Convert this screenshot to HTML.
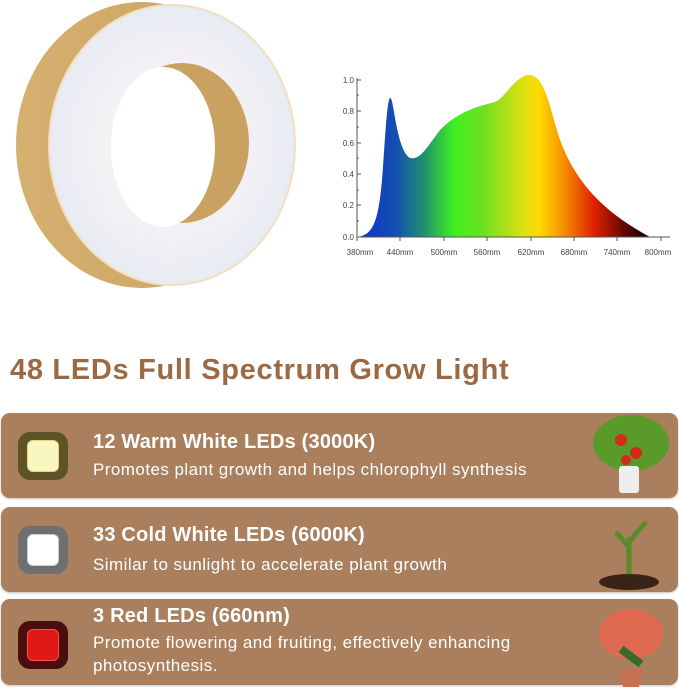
<!DOCTYPE html>
<html><head><meta charset="utf-8"><style>
body{margin:0;width:679px;height:690px;background:#fff;position:relative;overflow:hidden;font-family:"Liberation Sans",sans-serif}
.h{position:absolute;left:10px;top:354px;font-size:29px;font-weight:bold;color:#9a6a44;letter-spacing:0.7px}
.card{position:absolute;left:1px;width:677px;background:#a97f5d;border-radius:9px;box-shadow:0 1px 2px rgba(0,0,0,.25)}
.t{position:absolute;left:92px;color:#fff;font-weight:bold;font-size:20px;letter-spacing:0.2px}
.s{position:absolute;left:92px;color:#fff;font-size:17px;line-height:23px;letter-spacing:0.45px}
.ic{position:absolute;left:17px;width:50px;height:48px;border-radius:12px}
.ic div{position:absolute;left:9px;top:8px;width:30px;height:30px;border-radius:6px}
</style></head><body>
<svg width="320" height="300" style="position:absolute;left:0;top:0">
<defs><linearGradient id="w" x1="0" x2="1"><stop offset="0" stop-color="#d6b070"/><stop offset="1" stop-color="#c9a260"/></linearGradient>
<radialGradient id="f" cx="0.5" cy="0.5" r="0.5"><stop offset="0.5" stop-color="#f6f2f4"/><stop offset="1" stop-color="#e8ebf3"/></radialGradient></defs>
<ellipse cx="142" cy="145" rx="126" ry="143" fill="url(#w)"/>
<ellipse cx="172" cy="145" rx="123" ry="140" fill="url(#f)" stroke="#f3dfc0" stroke-width="2"/>
<ellipse cx="182" cy="143" rx="67" ry="80" fill="#c9a262"/>
<ellipse cx="163" cy="147" rx="52" ry="80" fill="#fff"/>
</svg>
<svg width="679" height="300" style="position:absolute;left:0;top:0">
<defs><linearGradient id="sp" x1="357" x2="661" gradientUnits="userSpaceOnUse">
<stop offset="0" stop-color="#1030d0"/><stop offset="0.13" stop-color="#1450b0"/><stop offset="0.22" stop-color="#209070"/>
<stop offset="0.32" stop-color="#40f020"/><stop offset="0.42" stop-color="#70e020"/><stop offset="0.55" stop-color="#e0e010"/>
<stop offset="0.6" stop-color="#ffd800"/><stop offset="0.68" stop-color="#f59000"/><stop offset="0.78" stop-color="#e02000"/>
<stop offset="0.88" stop-color="#600800"/><stop offset="0.96" stop-color="#100000"/></linearGradient></defs>
<path d="M357,237 C372,235 378,225 382,180 C385,140 387,100 390,98 C394,96 396,150 410,158 C420,160 425,150 440,130 C460,110 480,106 495,102 C505,98 512,80 527,75 C545,72 550,110 560,140 C575,180 600,210 650,237 Z" fill="url(#sp)"/>
<g stroke="#555" stroke-width="1" fill="none">
<line x1="357" y1="78" x2="357" y2="237"/><line x1="357" y1="237" x2="670" y2="237"/>
<path d="M357,80h4M357,111h4M357,143h4M357,174h4M357,205h4M357,237h4M357,95h2M357,127h2M357,158h2M357,190h2M357,221h2"/>
<path d="M357,237v4M400,237v4M444,237v4M487,237v4M531,237v4M574,237v4M617,237v4M661,237v4"/>
</g>
<g font-size="8" fill="#444" font-family="Liberation Sans">
<g text-anchor="end"><text x="354" y="83">1.0</text><text x="354" y="114">0.8</text><text x="354" y="146">0.6</text><text x="354" y="177">0.4</text><text x="354" y="208">0.2</text><text x="354" y="240">0.0</text></g>
<g text-anchor="middle"><text x="360" y="255">380mm</text><text x="400" y="255">440mm</text><text x="444" y="255">500mm</text><text x="487" y="255">560mm</text><text x="531" y="255">620mm</text><text x="574" y="255">680mm</text><text x="617" y="255">740mm</text><text x="658" y="255">800mm</text></g>
</g></svg>
<div class="h">48 LEDs Full Spectrum Grow Light</div>
<div class="card" style="top:413px;height:85px"><div class="ic" style="top:19px;background:#5e5326"><div style="background:#f9f5c0;border:1px solid #e8d680"></div></div>
<div class="t" style="top:18px">12 Warm White LEDs (3000K)</div><div class="s" style="top:45px">Promotes plant growth and helps chlorophyll synthesis</div>
<svg style="position:absolute;left:585px;top:-5px" width="90" height="90"><ellipse cx="45" cy="35" rx="38" ry="28" fill="#5a9a2a"/><circle cx="35" cy="32" r="6" fill="#d42a1a"/><circle cx="50" cy="45" r="6" fill="#d42a1a"/><circle cx="40" cy="52" r="5" fill="#d42a1a"/><rect x="33" y="58" width="20" height="27" rx="3" fill="#eee"/></svg></div>
<div class="card" style="top:507px;height:85px"><div class="ic" style="top:19px;background:#6f6f70"><div style="background:#fff;border:1px solid #ccc"></div></div>
<div class="t" style="top:17px">33 Cold White LEDs (6000K)</div><div class="s" style="top:46px">Similar to sunlight to accelerate plant growth</div>
<svg style="position:absolute;left:590px;top:-5px" width="90" height="90"><path d="M38,75 L38,35 M38,45 L25,30 M38,40 L55,20" stroke="#5a8a2a" stroke-width="5"/><ellipse cx="38" cy="80" rx="30" ry="8" fill="#3a2418"/></svg></div>
<div class="card" style="top:599px;height:86px"><div class="ic" style="top:22px;background:#4a0e0e"><div style="background:#e01818;border:1px solid #ff5050"></div></div>
<div class="t" style="top:6px">3 Red LEDs (660nm)</div><div class="s" style="top:32px">Promote flowering and fruiting, effectively enhancing<br>photosynthesis.</div>
<svg style="position:absolute;left:590px;top:-5px" width="90" height="95"><ellipse cx="40" cy="40" rx="32" ry="25" fill="#e06a50"/><path d="M30,55 L50,70" stroke="#3a6a2a" stroke-width="8"/><path d="M28,75 h24 l-4,18 h-16z" fill="#c87050"/></svg></div>
</body></html>
